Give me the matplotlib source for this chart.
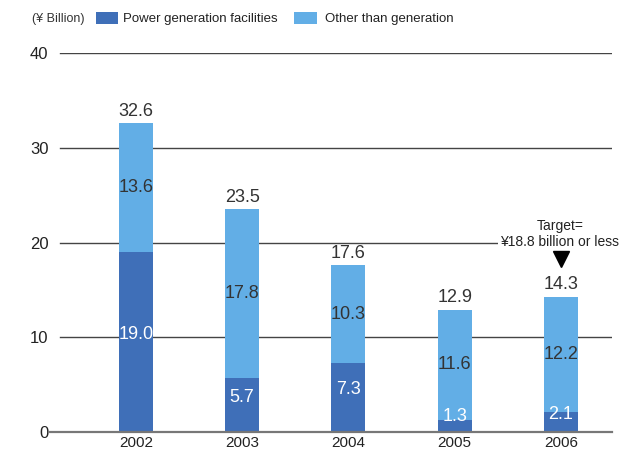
import matplotlib

matplotlib.use("Agg")
import matplotlib.pyplot as plt
from matplotlib.patches import Rectangle

plt.rcParams["font.family"] = ["Liberation Sans", "DejaVu Sans"]

years = ["2002", "2003", "2004", "2005", "2006"]
power_gen = [19.0, 5.7, 7.3, 1.3, 2.1]
other = [13.6, 17.8, 10.3, 11.6, 12.2]
totals = [32.6, 23.5, 17.6, 12.9, 14.3]
y_ticks = [0, 10, 20, 30, 40]
target_value = 18.8

DARK = "#3f6fb8"
LIGHT = "#62aee6"
TXT = "#333333"

fig = plt.figure(figsize=(6.22, 4.5), dpi=100)
ax = fig.add_axes([0.080, 0.040, 0.904, 0.842])

x = list(range(len(years)))
w = 0.32
ax.bar(x, power_gen, width=w, color=DARK, zorder=3)
ax.bar(x, other, width=w, bottom=power_gen, color=LIGHT, zorder=3)

# horizontal rules at each tick, starting a little right of the axis
for t in y_ticks[1:]:
    ax.axhline(t, xmin=0.018, xmax=1, color="#444444", lw=1.0, zorder=1)

for i in x:
    ax.text(i, totals[i] + 0.35, f"{totals[i]:.1f}", ha="center", va="bottom",
            fontsize=13, color=TXT, zorder=5)
    lo = max(power_gen[i] / 2 + 0.8, 1.6)
    ax.text(i, lo, f"{power_gen[i]:.1f}", ha="center", va="center",
            fontsize=13, color="white", zorder=5)
    mid = power_gen[i] + other[i] / 2
    ax.text(i, mid, f"{other[i]:.1f}", ha="center", va="center",
            fontsize=13, color=TXT, zorder=5)

# target note above the last bar
ax.text(3.99, 20.9, f"Target=\n\u00a5{target_value} billion or less", ha="center", va="center",
        fontsize=10, color="#222222", linespacing=1.15, zorder=6,
        bbox=dict(facecolor="white", edgecolor="none", pad=1.5))
ax.plot([4], [18.3], marker="v", markersize=11, color="black", zorder=6, clip_on=False)

ax.set_xlim(-0.81, 4.48)
ax.set_ylim(0, 40)
ax.set_xticks(x)
ax.set_xticklabels(years, fontsize=11, color="#222222")
ax.set_yticks(y_ticks)
ax.set_yticklabels([str(t) for t in y_ticks], fontsize=12, color="#222222")
ax.tick_params(length=0)
ax.tick_params(axis="y", pad=1)
ax.tick_params(axis="x", pad=3)
for side in ["top", "right", "left"]:
    ax.spines[side].set_visible(False)
ax.spines["bottom"].set_color("#777777")
ax.spines["bottom"].set_linewidth(1.6)
ax.spines["bottom"].set_zorder(4)

# legend row across the top
fig.text(0.051, 0.958, "(\u00a5 Billion)", fontsize=9, color="#333333", va="center")
fig.patches.append(Rectangle((0.154, 0.947), 0.036, 0.026, transform=fig.transFigure,
                             facecolor=DARK, edgecolor="none"))
fig.text(0.198, 0.958, "Power generation facilities", fontsize=9.5, color="#222222", va="center")
fig.patches.append(Rectangle((0.473, 0.947), 0.036, 0.026, transform=fig.transFigure,
                             facecolor=LIGHT, edgecolor="none"))
fig.text(0.522, 0.958, "Other than generation", fontsize=9.5, color="#222222", va="center")

fig.savefig("out.png", dpi=100)
